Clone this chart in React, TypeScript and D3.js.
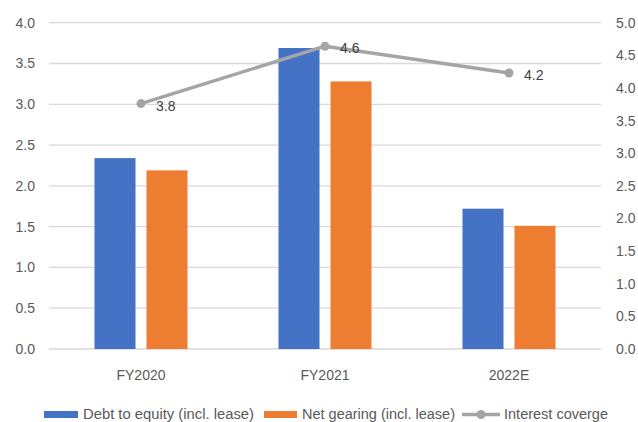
import React from "react";
import * as d3 from "d3";

const categories = ["FY2020", "FY2021", "2022E"];
const debtToEquity = [2.34, 3.69, 1.72];
const netGearing = [2.19, 3.28, 1.51];
const interestCoverage = [3.76, 4.64, 4.23];
const interestLabels = ["3.8", "4.6", "4.2"];
const leftTicks = [0, 0.5, 1, 1.5, 2, 2.5, 3, 3.5, 4];
const rightTicks = [0, 0.5, 1, 1.5, 2, 2.5, 3, 3.5, 4, 4.5, 5];
const seriesNames = ["Debt to equity (incl. lease)", "Net gearing (incl. lease)", "Interest coverge"];

const W = 638, H = 422;
const left = 49, right = 601, top = 22.7, bottom = 349;
const FONT = "'Liberation Sans', Arial, sans-serif";

export default function App() {
  const x = d3.scaleBand().domain(categories).range([left, right]);
  const yL = d3.scaleLinear().domain([0, 4]).range([bottom, top]);
  const yR = d3.scaleLinear().domain([0, 5]).range([bottom, top]);
  const barW = 41, gap = 11;
  const cx = (c: string) => (x(c) as number) + x.bandwidth() / 2;
  const line = d3.line<number>().x((_, i) => cx(categories[i])).y((d) => yR(d));
  return (
    <svg width={W} height={H} style={{ position: "absolute", left: 0, top: 0, background: "#fff" }}>
      {leftTicks.map((t) => (
        <line key={t} x1={left} x2={right} y1={yL(t)} y2={yL(t)} stroke="#D9D9D9" strokeWidth={1.3} />
      ))}
      {leftTicks.map((t) => (
        <text key={t} x={35} y={yL(t) + 5} textAnchor="end" fontFamily={FONT} fontSize={14} fill="#595959">
          {t.toFixed(1)}
        </text>
      ))}
      {rightTicks.map((t) => (
        <text key={t} x={616} y={yR(t) + 5} textAnchor="start" fontFamily={FONT} fontSize={14} fill="#595959">
          {t.toFixed(1)}
        </text>
      ))}
      {categories.map((c, i) => (
        <g key={c}>
          <rect x={cx(c) - gap / 2 - barW} y={yL(debtToEquity[i])} width={barW} height={bottom - yL(debtToEquity[i])} fill="#4472C4" />
          <rect x={cx(c) + gap / 2} y={yL(netGearing[i])} width={barW} height={bottom - yL(netGearing[i])} fill="#ED7D31" />
          <text x={cx(c)} y={380} textAnchor="middle" fontFamily={FONT} fontSize={14} fill="#595959">{c}</text>
        </g>
      ))}
      <path d={line(interestCoverage) || ""} fill="none" stroke="#A5A5A5" strokeWidth={3.5} strokeLinejoin="round" />
      {interestCoverage.map((v, i) => (
        <g key={i}>
          <circle cx={cx(categories[i])} cy={yR(v)} r={4.5} fill="#A5A5A5" />
          <text x={cx(categories[i]) + 15} y={yR(v) + 7} fontFamily={FONT} fontSize={14} fill="#404040">{interestLabels[i]}</text>
        </g>
      ))}
      <g fontFamily={FONT} fontSize={14} fill="#595959">
        <rect x={44} y={411} width={34} height={7} fill="#4472C4" />
        <text x={83} y={419} textLength={171} lengthAdjust="spacingAndGlyphs">{seriesNames[0]}</text>
        <rect x={264} y={411} width={33} height={7} fill="#ED7D31" />
        <text x={302} y={419} textLength={153} lengthAdjust="spacingAndGlyphs">{seriesNames[1]}</text>
        <line x1={462} x2={500} y1={414.5} y2={414.5} stroke="#A5A5A5" strokeWidth={3.5} />
        <circle cx={481} cy={414.5} r={4.5} fill="#A5A5A5" />
        <text x={504} y={419} textLength={104} lengthAdjust="spacingAndGlyphs">{seriesNames[2]}</text>
      </g>
    </svg>
  );
}
